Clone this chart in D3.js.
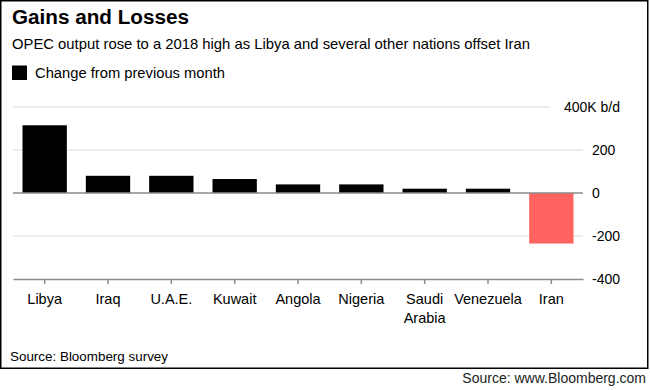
<!DOCTYPE html>
<html>
<head>
<meta charset="utf-8">
<script src="https://cdn.jsdelivr.net/npm/d3@7"></script>
<style>
  body { margin: 0; background: #fff; }
  text { font-family: "Liberation Sans", Arial, sans-serif; fill: #000; }
</style>
</head>
<body>
<script>
// data (thousand barrels a day)
var countries = ["Libya", "Iraq", "U.A.E.", "Kuwait", "Angola", "Nigeria", "Saudi Arabia", "Venezuela", "Iran"];
var changes = [315, 80, 80, 65, 40, 40, 20, 20, -235];
var yTicks = [400, 200, 0, -200, -400];
var yTickLabels = ["400K b/d", "200", "0", "-200", "-400"];

var totalWidth = 650, totalHeight = 390;

var svg = d3.select("body").append("svg")
    .attr("width", totalWidth)
    .attr("height", totalHeight);

// frame round the chart
svg.append("rect")
    .attr("x", 0.75).attr("y", 0.75)
    .attr("width", 647).attr("height", 367.5)
    .attr("fill", "#fff")
    .attr("stroke", "#000")
    .attr("stroke-width", 1.5);

// titles
svg.append("text")
    .attr("x", 12).attr("y", 24)
    .style("font-size", "20px")
    .style("font-weight", "bold")
    .attr("textLength", 177)
    .attr("lengthAdjust", "spacingAndGlyphs")
    .text("Gains and Losses");

svg.append("text")
    .attr("x", 12).attr("y", 48.5)
    .style("font-size", "15px")
    .attr("textLength", 518)
    .attr("lengthAdjust", "spacingAndGlyphs")
    .text("OPEC output rose to a 2018 high as Libya and several other nations offset Iran");

// legend
svg.append("rect")
    .attr("x", 12).attr("y", 65.5)
    .attr("width", 15).attr("height", 14.5)
    .attr("fill", "#000");
svg.append("text")
    .attr("x", 35).attr("y", 77.5)
    .style("font-size", "14px")
    .attr("textLength", 190)
    .attr("lengthAdjust", "spacingAndGlyphs")
    .text("Change from previous month");

// scales
var x = d3.scaleBand()
    .domain(countries)
    .range([13, 583])
    .paddingInner(0.3)
    .paddingOuter(0.15);

var y = d3.scaleLinear()
    .domain([-400, 400])
    .range([279, 107]);

// gridlines
svg.selectAll(".grid")
    .data(yTicks.filter(function(d) { return d != 0 && d != -400; }))
    .enter()
    .append("line")
        .attr("class", "grid")
        .attr("x1", 13)
        .attr("x2", function(d) { return d == 400 ? 550 : 583; })
        .attr("y1", function(d) { return y(d); })
        .attr("y2", function(d) { return y(d); })
        .attr("stroke", "#dcdcdc")
        .attr("stroke-width", 1.2);

// bars
svg.selectAll(".bar")
    .data(countries)
    .enter()
    .append("rect")
        .attr("class", "bar")
        .attr("x", function(d) { return x(d); })
        .attr("width", x.bandwidth())
        .attr("y", function(d, i) { return y(Math.max(0, changes[i])); })
        .attr("height", function(d, i) { return Math.abs(y(changes[i]) - y(0)); })
        .attr("fill", function(d, i) { return changes[i] < 0 ? "#ff6461" : "#000"; });

// zero line
svg.append("line")
    .attr("x1", 13).attr("x2", 583)
    .attr("y1", y(0)).attr("y2", y(0))
    .attr("stroke", "#8a8a8a")
    .attr("stroke-width", 1.5);

// y labels
svg.selectAll(".ylab")
    .data(yTicks)
    .enter()
    .append("text")
        .attr("class", "ylab")
        .attr("x", function(d) { return d == 400 ? 564 : 592; })
        .attr("y", function(d) { return y(d); })
        .attr("dy", "0.36em")
        .style("font-size", "14px")
        .text(function(d, i) { return yTickLabels[i]; });

// bottom axis with ticks at the categories
var xAxis = d3.axisBottom(x).tickSize(5).tickSizeOuter(0).tickFormat("");
var gx = svg.append("g")
    .attr("transform", "translate(0," + y(-400) + ")")
    .call(xAxis);
gx.select(".domain").attr("stroke", "#8a8a8a").attr("stroke-width", 1.5);
gx.selectAll(".tick line").attr("stroke", "#8a8a8a").attr("stroke-width", 1.5);

// category labels, split on the space for Saudi Arabia
svg.selectAll(".xlab")
    .data(countries)
    .enter()
    .append("text")
        .attr("class", "xlab")
        .attr("text-anchor", "middle")
        .style("font-size", "14.5px")
        .each(function(d) {
            var words = d == "Saudi Arabia" ? ["Saudi", "Arabia"] : [d];
            var t = d3.select(this);
            words.forEach(function(w, k) {
                t.append("tspan")
                    .attr("x", x(d) + x.bandwidth() / 2)
                    .attr("y", 304 + k * 19)
                    .text(w);
            });
        });

// source lines
svg.append("text")
    .attr("x", 10).attr("y", 361)
    .style("font-size", "13px")
    .attr("textLength", 158)
    .attr("lengthAdjust", "spacingAndGlyphs")
    .text("Source: Bloomberg survey");

svg.append("text")
    .attr("x", 646).attr("y", 383)
    .attr("text-anchor", "end")
    .style("font-size", "14px")
    .style("fill", "#222")
    .text("Source: www.Bloomberg.com");
</script>
</body>
</html>
